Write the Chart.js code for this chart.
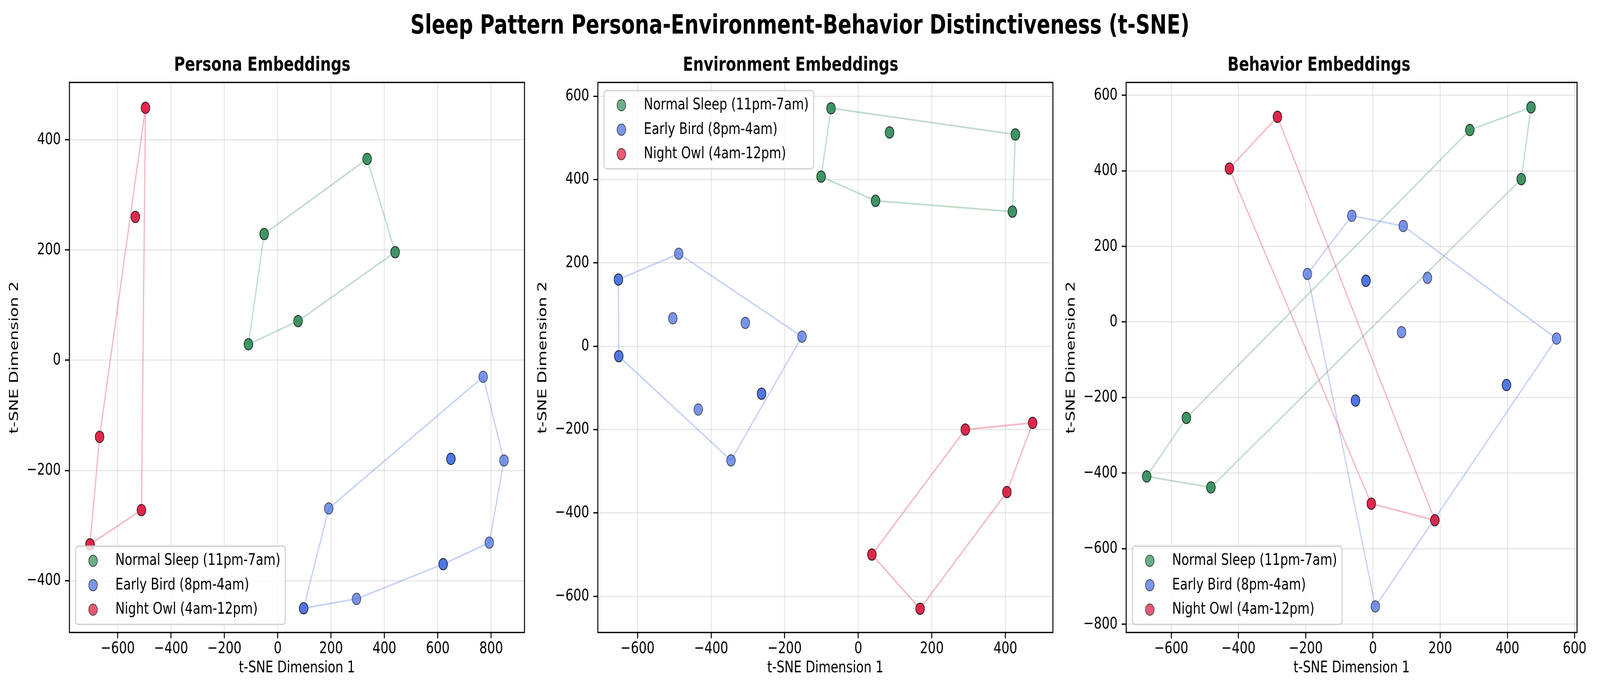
<!DOCTYPE html>
<html>
<head>
<meta charset="utf-8">
<script src="https://cdn.jsdelivr.net/npm/chart.js@4.4.1/dist/chart.umd.min.js"></script>
<style>
  html, body { margin: 0; padding: 0; background: #fff; overflow: hidden; }
  #page { width: 5369px; height: 1779px; position: absolute; left: 0; top: 0; transform-origin: 0 0; font-family: "DejaVu Sans", sans-serif; background: #fff; }
  #suptitle { position: absolute; left: 0; top: 30px; width: 5369px; text-align: center; font-weight: bold; font-size: 67px; line-height: 67px; }
  canvas { position: absolute; top: 138px; }
</style>
</head>
<body>
<div id="page">
<div id="suptitle">Sleep Pattern Persona-Environment-Behavior Distinctiveness (t-SNE)</div>
<canvas id="persona" width="1780" height="1641" style="left:0px"></canvas>
<canvas id="environment" width="1780" height="1641" style="left:1773px"></canvas>
<canvas id="behavior" width="1780" height="1641" style="left:3546px"></canvas>
</div>
<script>
const groupLabels = ["Normal Sleep (11pm-7am)", "Early Bird (8pm-4am)", "Night Owl (4am-12pm)"];
const groupColors = ["46, 139, 87", "65, 105, 225", "220, 20, 60"];

// repeated pairs are samples that sit on top of each other
const personaNormal = [[335, 365], [335, 365], [-51, 229], [-51, 229], [440, 196], [440, 196], [76, 71], [76, 71], [-110, 29], [-110, 29]];
const personaEarly = [[770, -30], [649, -179], [649, -179], [848, -182], [191, -269], [793, -331], [620, -370], [620, -370], [295, -433], [97, -450], [97, -450]];
const personaNight = [[-496, 458], [-496, 458], [-534, 260], [-534, 260], [-668, -139], [-668, -139], [-511, -272], [-511, -272], [-704, -334], [-704, -334]];

const envNormal = [[-74, 571], [-74, 571], [85, 513], [85, 513], [427, 508], [427, 508], [-101, 407], [-101, 407], [47, 349], [47, 349], [419, 323], [419, 323]];
const envEarly = [[-488, 222], [-652, 160], [-652, 160], [-504, 67], [-307, 56], [-153, 23], [-651, -24], [-651, -24], [-263, -114], [-263, -114], [-435, -152], [-346, -274]];
const envNight = [[291, -200], [291, -200], [474, -184], [474, -184], [404, -350], [404, -350], [37, -500], [37, -500], [168, -630], [168, -630]];

const behNormal = [[470, 568], [470, 568], [288, 508], [288, 508], [441, 378], [441, 378], [-555, -254], [-555, -254], [-673, -409], [-673, -409], [-482, -438], [-482, -438]];
const behEarly = [[-63, 281], [90, 254], [-195, 127], [-21, 109], [-21, 109], [162, 117], [85, -27], [546, -44], [397, -167], [397, -167], [-52, -208], [-52, -208], [7, -753]];
const behNight = [[-284, 543], [-284, 543], [-427, 406], [-427, 406], [-5, -481], [-5, -481], [184, -525], [184, -525]];

const personaXTicks = [-600, -400, -200, 0, 200, 400, 600, 800];
const personaYTicks = [-400, -200, 0, 200, 400];
const envXTicks = [-600, -400, -200, 0, 200, 400];
const envYTicks = [-600, -400, -200, 0, 200, 400, 600];
const behXTicks = [-600, -400, -200, 0, 200, 400, 600];
const behYTicks = [-800, -600, -400, -200, 0, 200, 400, 600];

const FONT = '"DejaVu Sans", sans-serif';
const FS = 41.7;

// the window may be narrower than 5369 css px: stretch the figure over the whole viewport
(function fitPage() {
  const vw = window.innerWidth, vh = window.innerHeight;
  const page = document.getElementById("page");
  page.style.transform = "scale(" + vw / 5369 + "," + vh / 1779 + ")";
  document.body.style.width = vw + "px";
  document.body.style.height = vh + "px";
})();

function convexHull(pts) {
  const p = pts.map(q => ({ x: q[0], y: q[1] })).sort((a, b) => a.x - b.x || a.y - b.y);
  const cross = (o, a, b) => (a.x - o.x) * (b.y - o.y) - (a.y - o.y) * (b.x - o.x);
  const lower = [], upper = [];
  for (const q of p) {
    while (lower.length >= 2 && cross(lower[lower.length - 2], lower[lower.length - 1], q) <= 0) lower.pop();
    lower.push(q);
  }
  for (const q of p.slice().reverse()) {
    while (upper.length >= 2 && cross(upper[upper.length - 2], upper[upper.length - 1], q) <= 0) upper.pop();
    upper.push(q);
  }
  const hull = lower.slice(0, -1).concat(upper.slice(0, -1));
  hull.push(hull[0]);
  return hull;
}

function fmt(v) {
  return v < 0 ? "\u2212" + Math.abs(v) : String(v);
}

// axes frame + matplotlib-like legend inside the plot area
const frameLegend = {
  id: "frameLegend",
  afterDatasetsDraw(chart, args, opts) {
    const { ctx, chartArea: a } = chart;
    ctx.save();
    ctx.strokeStyle = "#000";
    ctx.lineWidth = 3.3;
    ctx.strokeRect(a.left, a.top, a.right - a.left, a.bottom - a.top);

    const items = chart.data.datasets.filter(d => !d.hull);
    ctx.font = FS + "px " + FONT;
    const textW = Math.max(...items.map(d => ctx.measureText(d.label).width));
    const w = FS * (0.4 + 2 + 0.8 + 0.4) + textW;
    const h = FS * 0.8 + items.length * FS + (items.length - 1) * FS * 0.5;
    const x0 = a.left + FS * 0.5;
    const y0 = opts.loc === "upper left" ? a.top + FS * 0.5 : a.bottom - FS * 0.5 - h;

    ctx.beginPath();
    ctx.roundRect(x0, y0, w, h, 9);
    ctx.fillStyle = "rgba(255,255,255,0.8)";
    ctx.fill();
    ctx.strokeStyle = "rgba(204,204,204,0.8)";
    ctx.lineWidth = 4;
    ctx.stroke();

    items.forEach((d, i) => {
      const cy = y0 + FS * 0.4 + i * FS * 1.5 + FS / 2;
      ctx.beginPath();
      ctx.arc(x0 + FS * 1.4, cy, d.pointRadius, 0, Math.PI * 2);
      ctx.fillStyle = d.backgroundColor;
      ctx.fill();
      ctx.lineWidth = d.borderWidth;
      ctx.strokeStyle = d.borderColor;
      ctx.stroke();
      ctx.fillStyle = "#000";
      ctx.textBaseline = "middle";
      ctx.textAlign = "left";
      ctx.fillText(d.label, x0 + FS * 3.2, cy);
    });
    ctx.restore();
  }
};

function makePanel(id, title, groups, xr, yr, xTicks, yTicks, loc) {
  const datasets = [];
  groups.forEach((pts, i) => {
    datasets.push({
      label: groupLabels[i],
      data: pts.map(p => ({ x: p[0], y: p[1] })),
      backgroundColor: "rgba(" + groupColors[i] + ", 0.7)",
      borderColor: "rgba(0, 0, 0, 0.7)",
      borderWidth: 2,
      pointRadius: 14.5,
      order: 10 - i
    });
  });
  groups.forEach((pts, i) => {
    datasets.push({
      label: groupLabels[i] + " hull",
      hull: true,
      data: convexHull(pts),
      showLine: true,
      borderColor: "rgba(" + groupColors[i] + ", 0.3)",
      borderWidth: 4.2,
      pointRadius: 0,
      order: 5 - i
    });
  });

  const tickFont = { family: FONT, size: FS };
  const grid = { color: "rgba(176,176,176,0.3)", lineWidth: 3.3, tickColor: "#000", tickWidth: 3.3, tickLength: 15 };

  new Chart(document.getElementById(id), {
    type: "scatter",
    data: { datasets },
    options: {
      responsive: false,
      devicePixelRatio: 1,
      animation: false,
      events: [],
      layout: { padding: { left: 0, right: 20, top: 0, bottom: 0 } },
      plugins: {
        legend: { display: false },
        tooltip: { enabled: false },
        title: {
          display: true,
          text: title,
          color: "#000",
          font: { family: FONT, size: 50, weight: "bold" },
          padding: { top: 0, bottom: 13 }
        },
        frameLegend: { loc }
      },
      scales: {
        x: {
          type: "linear",
          min: xr[0],
          max: xr[1],
          afterBuildTicks: s => { s.ticks = xTicks.map(v => ({ value: v })); },
          afterFit: s => { s.height = 160; },
          ticks: { font: tickFont, color: "#000", padding: 2, autoSkip: false, maxRotation: 0, callback: fmt },
          grid,
          border: { display: false },
          title: { display: true, text: "t-SNE Dimension 1", color: "#000", font: tickFont, padding: { top: 0, bottom: 44 } }
        },
        y: {
          type: "linear",
          min: yr[0],
          max: yr[1],
          afterBuildTicks: s => { s.ticks = yTicks.map(v => ({ value: v })); },
          afterFit: s => { s.width = 233; },
          ticks: { font: tickFont, color: "#000", padding: 14, autoSkip: false, callback: fmt },
          grid,
          border: { display: false },
          title: { display: true, text: "t-SNE Dimension 2", color: "#000", font: tickFont, padding: { top: 24, bottom: 0 } }
        }
      }
    },
    plugins: [frameLegend]
  });
}

makePanel("persona", "Persona Embeddings", [personaNormal, personaEarly, personaNight],
  [-781, 925], [-494, 504], personaXTicks, personaYTicks, "lower left");
makePanel("environment", "Environment Embeddings", [envNormal, envEarly, envNight],
  [-708, 529], [-687, 633], envXTicks, envYTicks, "upper left");
makePanel("behavior", "Behavior Embeddings", [behNormal, behEarly, behNight],
  [-734, 607], [-822, 634], behXTicks, behYTicks, "lower left");
</script>
</body>
</html>
